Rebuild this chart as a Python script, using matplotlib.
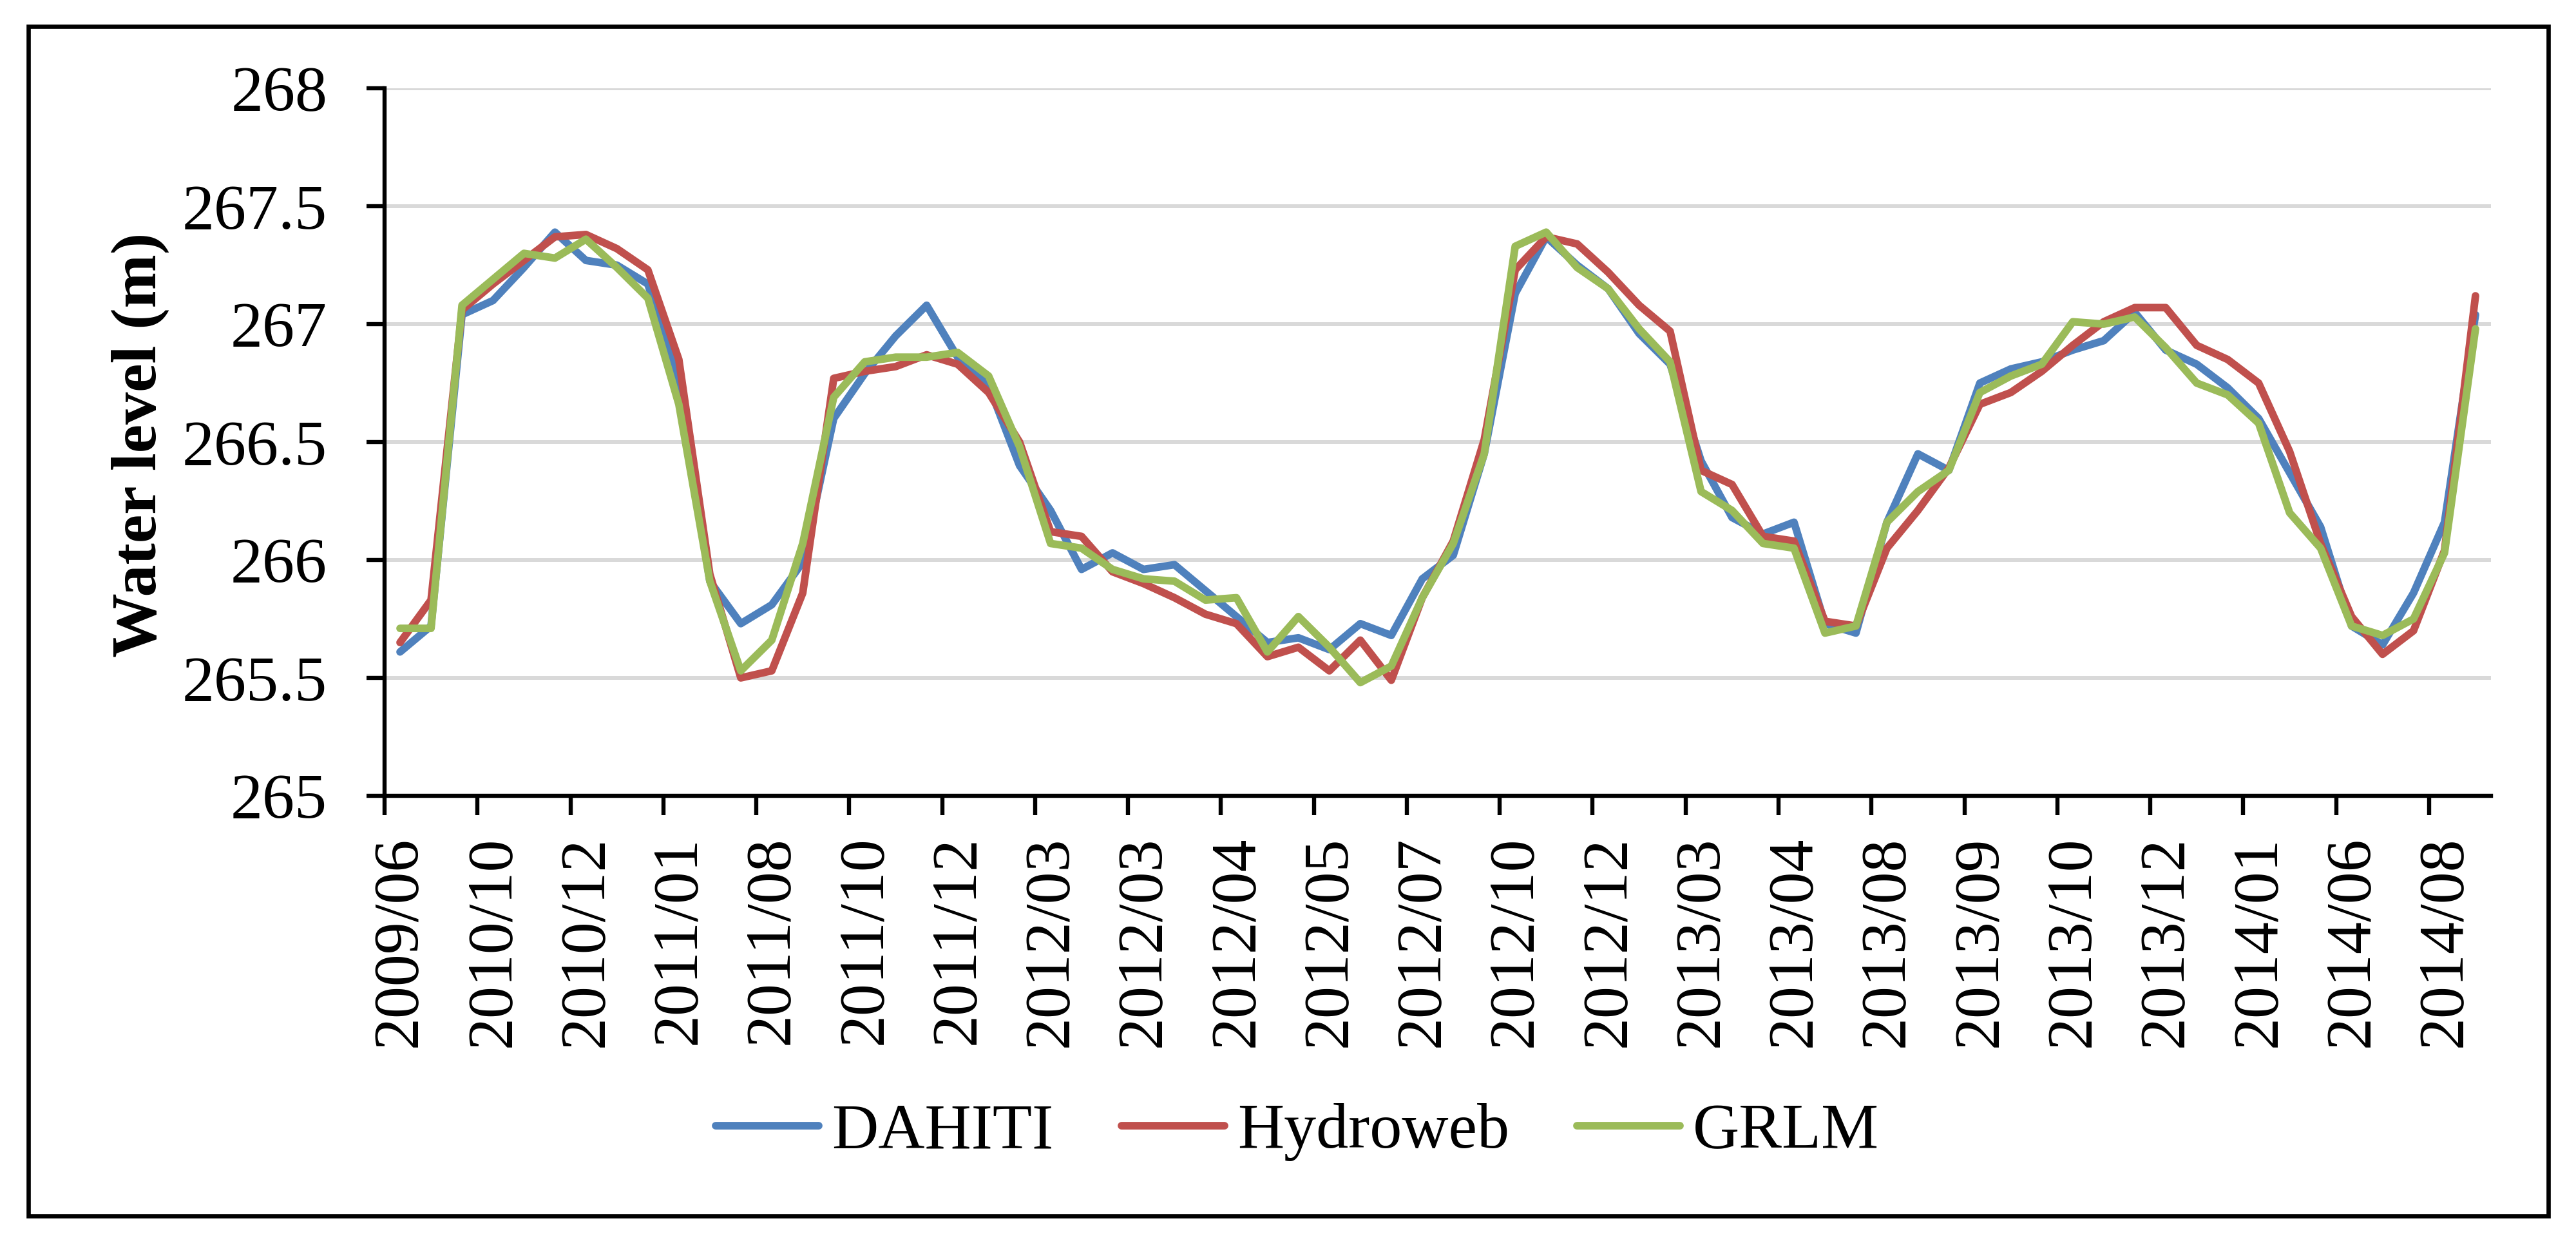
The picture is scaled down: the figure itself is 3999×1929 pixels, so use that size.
import matplotlib
matplotlib.use("Agg")
import matplotlib.pyplot as plt
from matplotlib.patches import Rectangle
from matplotlib.ticker import FixedLocator, FuncFormatter

plt.rcParams['font.family'] = ['Liberation Serif', 'DejaVu Serif']

# ---------------- data ----------------
tick_labels = ["2009/06", "2010/10", "2010/12", "2011/01", "2011/08", "2011/10",
               "2011/12", "2012/03", "2012/03", "2012/04", "2012/05", "2012/07",
               "2012/10", "2012/12", "2013/03", "2013/04", "2013/08", "2013/09",
               "2013/10", "2013/12", "2014/01", "2014/06", "2014/08"]
label_step = 3  # one label every three observations

dahiti = [265.61, 265.72, 267.04, 267.10, 267.24, 267.39, 267.27, 267.25, 267.17, 266.75,
          265.91, 265.73, 265.81, 265.99, 266.60, 266.79, 266.95, 267.08, 266.86, 266.74,
          266.40, 266.21, 265.96, 266.03, 265.96, 265.98, 265.87, 265.76, 265.65, 265.67,
          265.62, 265.73, 265.68, 265.92, 266.02, 266.45, 267.13, 267.37, 267.25, 267.15,
          266.96, 266.83, 266.42, 266.18, 266.11, 266.16, 265.73, 265.69, 266.16, 266.45,
          266.38, 266.75, 266.81, 266.84, 266.89, 266.93, 267.05, 266.89, 266.83, 266.73,
          266.60, 266.37, 266.14, 265.72, 265.64, 265.86, 266.16, 267.04]

hydroweb = [265.65, 265.83, 267.06, 267.17, 267.27, 267.37, 267.38, 267.32, 267.23, 266.85,
            265.94, 265.50, 265.53, 265.86, 266.77, 266.80, 266.82, 266.87, 266.83, 266.71,
            266.50, 266.12, 266.10, 265.95, 265.90, 265.84, 265.77, 265.73, 265.59, 265.63,
            265.53, 265.66, 265.49, 265.84, 266.08, 266.51, 267.23, 267.37, 267.34, 267.22,
            267.08, 266.97, 266.38, 266.32, 266.10, 266.08, 265.74, 265.72, 266.05, 266.21,
            266.39, 266.66, 266.71, 266.80, 266.91, 267.01, 267.07, 267.07, 266.91, 266.85,
            266.75, 266.46, 266.07, 265.76, 265.60, 265.70, 266.04, 267.12]

grlm = [265.71, 265.71, 267.08, 267.19, 267.30, 267.28, 267.36, 267.24, 267.11, 266.66,
        265.91, 265.53, 265.66, 266.07, 266.69, 266.84, 266.86, 266.86, 266.88, 266.78,
        266.48, 266.07, 266.05, 265.96, 265.92, 265.91, 265.83, 265.84, 265.61, 265.76,
        265.63, 265.48, 265.55, 265.84, 266.07, 266.45, 267.33, 267.39, 267.24, 267.15,
        266.98, 266.84, 266.29, 266.21, 266.07, 266.05, 265.69, 265.72, 266.16, 266.29,
        266.38, 266.71, 266.78, 266.83, 267.01, 267.00, 267.03, 266.90, 266.75, 266.70,
        266.58, 266.20, 266.05, 265.72, 265.68, 265.75, 266.03, 266.98]

series_names = ["DAHITI", "Hydroweb", "GRLM"]
series_colors = ["#4F81BD", "#C0504D", "#9BBB59"]
y_ticks = [265, 265.5, 266, 266.5, 267, 267.5, 268]

# ---------------- figure ----------------
W, H = 3999, 1929
fig = plt.figure(figsize=(W / 100, H / 100), dpi=100)
fig.patch.set_facecolor("white")

# outer chart border
fig.patches.append(Rectangle((44 / W, 1 - 1887 / H), (3956 - 44) / W, (1887 - 41) / H,
                             transform=fig.transFigure, fill=False,
                             edgecolor="black", linewidth=4.8, zorder=0))

ax = fig.add_axes([597 / W, 1 - 1235 / H, (3867 - 597) / W, (1235 - 137) / H])

n = len(dahiti)
x = list(range(n))
for vals, name, col in zip([dahiti, hydroweb, grlm], series_names, series_colors):
    ax.plot(x, vals, color=col, linewidth=8.5, label=name,
            solid_capstyle="round", solid_joinstyle="round", zorder=3)

ax.set_xlim(-0.5, n - 0.5)
ax.set_ylim(265, 268)

# y axis
ax.yaxis.set_major_locator(FixedLocator(y_ticks))
ax.yaxis.set_major_formatter(FuncFormatter(lambda v, p: f"{v:g}"))
ax.grid(axis="y", color="#D9D9D9", linewidth=4.3, zorder=0)
ax.set_axisbelow(True)

# x axis: ticks between groups of three categories, labels on the first of each group
label_pos = list(range(0, n, label_step))[:len(tick_labels)]
tick_pos = [p - 0.5 for p in label_pos]
ax.xaxis.set_major_locator(FixedLocator(tick_pos))
ax.xaxis.set_major_formatter(FuncFormatter(lambda v, p: ""))
ax.set_xticks(label_pos, minor=True)
ax.set_xticklabels(tick_labels, minor=True, rotation=90, fontsize=72)

ax.tick_params(axis="x", which="major", direction="out", length=21.5, width=4.6,
               color="black")
ax.tick_params(axis="x", which="minor", length=0, pad=45)
ax.tick_params(axis="y", which="major", direction="out", length=20, width=4.6,
               color="black", labelsize=72, pad=44)

for side in ["top", "right"]:
    ax.spines[side].set_visible(False)
for side in ["left", "bottom"]:
    ax.spines[side].set_color("black")
    ax.spines[side].set_linewidth(4.6)
    ax.spines[side].set_zorder(4)

# y label
fig.text(218 / W, 1 - 690 / H, "Water level (m)", rotation=90, ha="center", va="center",
         fontsize=72, fontweight="bold")

# legend
leg = fig.legend(*ax.get_legend_handles_labels(), loc="center",
                 bbox_to_anchor=(2014 / W, 1 - 1757 / H), ncol=3, frameon=False,
                 fontsize=72, handlelength=1.6, handletextpad=0.2, columnspacing=1.05,
                 borderaxespad=0)

fig.savefig("out.png", dpi=100, facecolor="white")
